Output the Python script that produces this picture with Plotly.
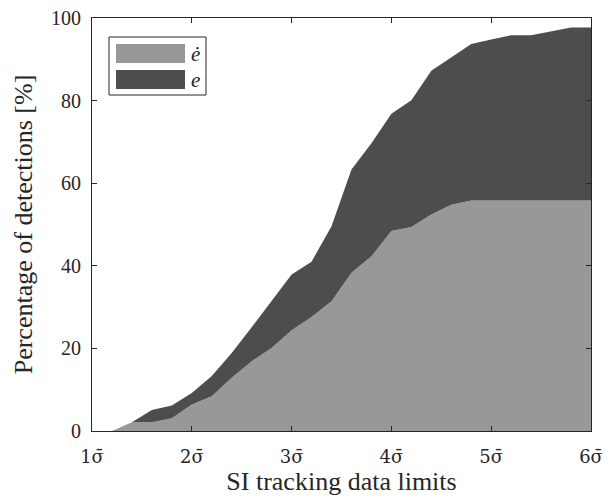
import plotly.graph_objects as go

limits = [1.0, 1.2, 1.4, 1.6, 1.8, 2.0, 2.2, 2.4, 2.6, 2.8, 3.0, 3.2, 3.4,
          3.6, 3.8, 4.0, 4.2, 4.4, 4.6, 4.8, 5.0, 5.2, 5.4, 5.6, 5.8, 6.0]
e_dot = [0, 0, 2.1, 2.1, 3.1, 6.4, 8.4, 12.9, 16.9, 20.1, 24.4, 27.6, 31.4,
         38.3, 42.3, 48.4, 49.4, 52.4, 54.8, 55.8, 55.8, 55.8, 55.8, 55.8, 55.8, 55.8]
e_vals = [0, 0, 0, 3.0, 3.1, 2.8, 4.9, 6.0, 8.2, 11.3, 13.5, 13.4, 18.2,
          25.0, 27.4, 28.4, 30.7, 34.8, 35.7, 37.9, 39.0, 40.0, 40.0, 41.0, 41.9, 41.9]
x_ticks = [1, 2, 3, 4, 5, 6]
x_labels = ["1σ̄", "2σ̄", "3σ̄", "4σ̄", "5σ̄", "6σ̄"]
y_ticks = [0, 20, 40, 60, 80, 100]
names = ["<i>ė</i>", "<i>e</i>"]
colors = ["#989898", "#4d4d4d"]

FONT = "Liberation Serif"
TICKFONT_X = "DejaVu Serif"

fig = go.Figure()
for vals, name, col in zip([e_dot, e_vals], names, colors):
    fig.add_trace(go.Scatter(x=limits, y=vals, name=name, mode="lines",
                             line=dict(width=0, color=col), fillcolor=col,
                             stackgroup="one", showlegend=False))

axis_common = dict(showline=True, linecolor="#262626", linewidth=1, mirror="ticks",
                   ticks="inside", ticklen=5, tickcolor="#262626", showgrid=False,
                   zeroline=False, automargin=False)

fig.update_layout(
    width=616, height=498,
    margin=dict(l=92, r=25, t=18, b=67),
    paper_bgcolor="white", plot_bgcolor="white",
    font=dict(family=FONT, color="#262626"),
    xaxis=dict(range=[1, 6], tickvals=x_ticks, ticktext=x_labels, ticklabelstandoff=9,
               tickfont=dict(family=TICKFONT_X, size=18, color="#262626"),
               title=dict(text="SI tracking data limits",
                          font=dict(family=FONT, size=26, color="#262626"), standoff=2),
               **axis_common),
    yaxis=dict(range=[0, 100], tickvals=y_ticks, ticklabelstandoff=6,
               tickfont=dict(family=FONT, size=20, color="#262626"),
               title=dict(text="Percentage of detections [%]",
                          font=dict(family=FONT, size=26, color="#262626"), standoff=10),
               **axis_common),
)

# custom legend (box with large swatches)
def px2paper_x(px):
    return (px - 92) / (616 - 92 - 25)

def px2paper_y(py):
    return 1 - (py - 18) / (498 - 18 - 67)

fig.add_shape(type="rect", xref="paper", yref="paper",
              x0=px2paper_x(109), x1=px2paper_x(206), y0=px2paper_y(95), y1=px2paper_y(37),
              line=dict(color="#262626", width=1), fillcolor="white")
for i, (name, col) in enumerate(zip(names, colors)):
    top = 44 + i * 26
    fig.add_shape(type="rect", xref="paper", yref="paper",
                  x0=px2paper_x(116), x1=px2paper_x(185),
                  y0=px2paper_y(top + 19), y1=px2paper_y(top),
                  line=dict(width=0), fillcolor=col)
    fig.add_annotation(xref="paper", yref="paper", x=px2paper_x(189),
                       y=px2paper_y(top + 9.5), text=name, showarrow=False,
                       xanchor="left", yanchor="middle",
                       font=dict(family=FONT, size=21, color="#262626"))

fig.write_html("out.html")
